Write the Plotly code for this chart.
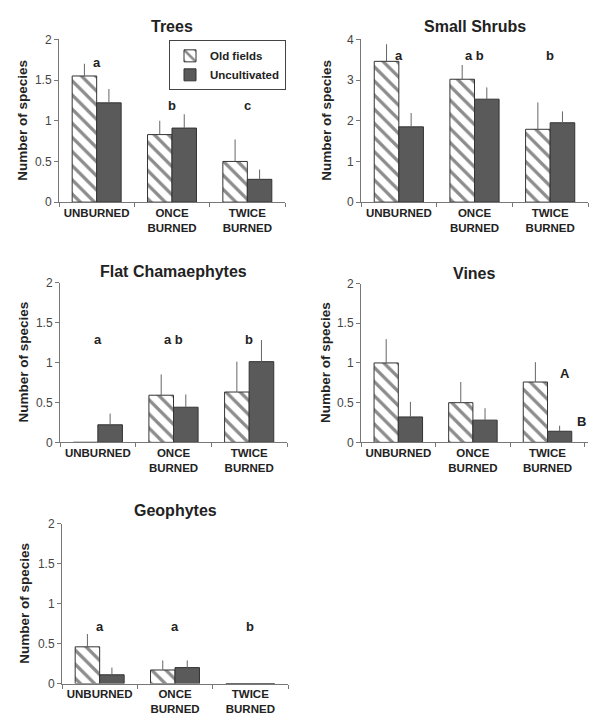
import plotly.graph_objects as go

categories = ["UNBURNED", "ONCE<br>BURNED", "TWICE<br>BURNED"]
series_names = ["Old fields", "Uncultivated"]

panel_titles = ["Trees", "Small Shrubs", "Flat Chamaephytes", "Vines", "Geophytes"]

trees_old = [1.55, 0.83, 0.50]
trees_old_se = [0.15, 0.17, 0.27]
trees_unc = [1.22, 0.91, 0.28]
trees_unc_se = [0.17, 0.17, 0.12]

shrubs_old = [3.46, 3.02, 1.79]
shrubs_old_se = [0.42, 0.35, 0.66]
shrubs_unc = [1.85, 2.53, 1.95]
shrubs_unc_se = [0.34, 0.29, 0.28]

flat_old = [0.0, 0.59, 0.63]
flat_old_se = [0.0, 0.26, 0.38]
flat_unc = [0.22, 0.44, 1.01]
flat_unc_se = [0.14, 0.16, 0.27]

vines_old = [1.00, 0.50, 0.76]
vines_old_se = [0.30, 0.26, 0.25]
vines_unc = [0.32, 0.28, 0.14]
vines_unc_se = [0.19, 0.15, 0.07]

geo_old = [0.46, 0.17, 0.0]
geo_old_se = [0.16, 0.12, 0.0]
geo_unc = [0.11, 0.20, 0.0]
geo_unc_se = [0.09, 0.09, 0.0]

trees_letters = ["a", "b", "c"]
trees_letter_y = [1.72, 1.19, 1.19]
shrubs_letters = ["a", "a b", "b"]
shrubs_letter_y = [3.61, 3.61, 3.61]
flat_letters = ["a", "a b", "b"]
flat_letter_y = [1.29, 1.29, 1.29]
vines_letters = ["A", "B"]
vines_letter_y = [0.87, 0.26]
geo_letters = ["a", "a", "b"]
geo_letter_y = [0.71, 0.71, 0.71]

y_ranges = [[0, 2], [0, 4], [0, 2], [0, 2], [0, 2]]
y_ticks = [[0, 0.5, 1, 1.5, 2], [0, 1, 2, 3, 4], [0, 0.5, 1, 1.5, 2],
           [0, 0.5, 1, 1.5, 2], [0, 0.5, 1, 1.5, 2]]
y_ticktext = [["0", "0.5", "1", "1.5", "2"], ["0", "1", "2", "3", "4"],
              ["0", "0.5", "1", "1.5", "2"], ["0", "0.5", "1", "1.5", "2"],
              ["0", "0.5", "1", "1.5", "2"]]

panels = [
    (trees_old, trees_old_se, trees_unc, trees_unc_se),
    (shrubs_old, shrubs_old_se, shrubs_unc, shrubs_unc_se),
    (flat_old, flat_old_se, flat_unc, flat_unc_se),
    (vines_old, vines_old_se, vines_unc, vines_unc_se),
    (geo_old, geo_old_se, geo_unc, geo_unc_se),
]

W, H = 593, 720
# pixel boxes: (left, right, top, bottom)
boxes = [(59, 285, 33, 199), (361, 588, 33, 199),
         (60, 287, 281, 444), (361, 588, 282, 444),
         (62, 288, 527, 690)]
title_y_px = [20, 20, 270, 272, 513]
ytitle_x_px = [23, 327, 23, 326, 25]

FONT = "Liberation Sans, Arial, Helvetica, sans-serif"
TXT = "#222222"
AXC = "#777777"

fig = go.Figure()
layout = {}
annotations = []

for i, (old, old_se, unc, unc_se) in enumerate(panels):
    n = i + 1
    xa = "x" if n == 1 else f"x{n}"
    ya = "y" if n == 1 else f"y{n}"
    fig.add_trace(go.Bar(
        x=categories, y=old, name=series_names[0], xaxis=xa, yaxis=ya,
        offsetgroup="old", legendgroup="old", showlegend=(n == 1),
        marker=dict(color="white", line=dict(color="#333333", width=1),
                    pattern=dict(shape="\\", fgcolor="#1a1a1a", bgcolor="white",
                                 size=10, solidity=0.33)),
        error_y=dict(type="data", symmetric=False, array=old_se,
                     arrayminus=[0] * 3, color="#666666", thickness=1, width=0),
    ))
    fig.add_trace(go.Bar(
        x=categories, y=unc, name=series_names[1], xaxis=xa, yaxis=ya,
        offsetgroup="unc", legendgroup="unc", showlegend=(n == 1),
        marker=dict(color="#5a5a5a", line=dict(color="#333333", width=1)),
        error_y=dict(type="data", symmetric=False, array=unc_se,
                     arrayminus=[0] * 3, color="#666666", thickness=1, width=0),
    ))
    l, r, t, b = boxes[i]
    key_x = "xaxis" if n == 1 else f"xaxis{n}"
    key_y = "yaxis" if n == 1 else f"yaxis{n}"
    layout[key_x] = dict(
        domain=[l / W, r / W], anchor=ya, type="category",
        showline=True, linecolor=AXC, linewidth=1,
        ticks="outside", tickson="boundaries", ticklen=4, tickcolor=AXC,
        tickangle=0,
        tickfont=dict(family=FONT, size=11.5, color=TXT, weight="bold"),
        showgrid=False, zeroline=False, fixedrange=True,
    )
    layout[key_y] = dict(
        domain=[1 - b / H, 1 - t / H], anchor=xa, range=y_ranges[i],
        tickvals=y_ticks[i], ticktext=y_ticktext[i],
        showline=True, linecolor=AXC, linewidth=1,
        ticks="outside", ticklen=4, tickcolor=AXC,
        tickfont=dict(family=FONT, size=12, color="#444444"),
        showgrid=False, zeroline=False, fixedrange=True,
    )
    annotations.append(dict(
        text=panel_titles[i], xref="paper", yref="paper",
        x=(l + r) / 2 / W, y=1 - title_y_px[i] / H, xanchor="center", yanchor="middle",
        showarrow=False, font=dict(family=FONT, size=16, color=TXT, weight="bold")))
    annotations.append(dict(
        text="Number of species", xref="paper", yref="paper", textangle=-90,
        x=ytitle_x_px[i] / W, y=1 - (t + b) / 2 / H, xanchor="center", yanchor="middle",
        showarrow=False, font=dict(family=FONT, size=13.5, color=TXT, weight="bold")))

letter_sets = [
    (1, trees_letters, trees_letter_y),
    (2, shrubs_letters, shrubs_letter_y),
    (3, flat_letters, flat_letter_y),
    (5, geo_letters, geo_letter_y),
]
for n, letters, ys in letter_sets:
    xa = "x" if n == 1 else f"x{n}"
    ya = "y" if n == 1 else f"y{n}"
    for cat, lt, yv in zip(categories, letters, ys):
        annotations.append(dict(
            text=lt, xref=xa, yref=ya, x=cat, y=yv, showarrow=False,
            xanchor="center", yanchor="middle",
            font=dict(family=FONT, size=13, color=TXT, weight="bold")))

vine_shifts = [17, 34]
for lt, yv, sh in zip(vines_letters, vines_letter_y, vine_shifts):
    annotations.append(dict(
        text=lt, xref="x4", yref="y4", x=categories[2], y=yv, xshift=sh,
        showarrow=False, xanchor="center", yanchor="middle",
        font=dict(family=FONT, size=13, color=TXT, weight="bold")))

fig.update_layout(
    width=W, height=H,
    margin=dict(l=0, r=0, t=0, b=0),
    paper_bgcolor="white", plot_bgcolor="white",
    barmode="group", bargap=0.35, bargroupgap=0,
    showlegend=True,
    legend=dict(x=169 / W, y=1 - 34 / H, xanchor="left", yanchor="top",
                bordercolor="#444444", borderwidth=1, bgcolor="white",
                font=dict(family=FONT, size=11.5, color=TXT, weight="bold"),
                tracegroupgap=0, itemwidth=30, traceorder="normal"),
    annotations=annotations,
    **layout,
)

fig.write_html(
    "out.html",
    config={"displayModeBar": False},
    post_script="document.body.style.margin='0';document.body.style.overflow='hidden';",
)
